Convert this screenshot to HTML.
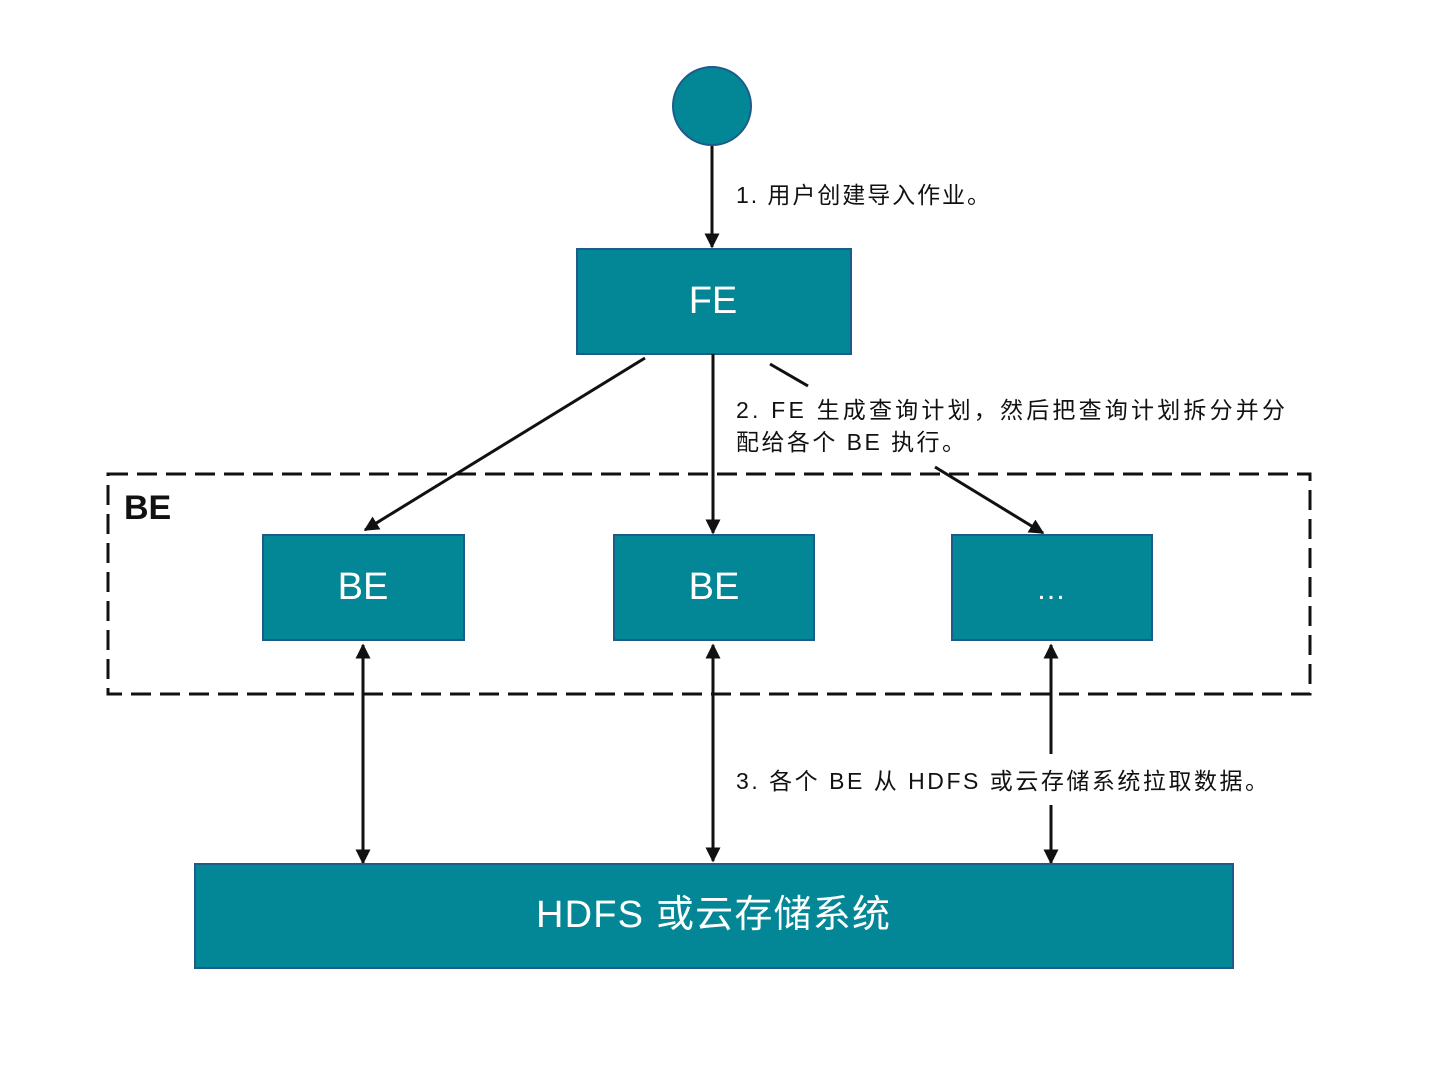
<!DOCTYPE html>
<html><head><meta charset="utf-8"><style>
html,body{margin:0;padding:0;background:#fff;}
svg{display:block;}
text{font-family:"Liberation Sans","Noto Sans CJK SC",sans-serif;}
</style></head><body>
<svg width="1436" height="1076" viewBox="0 0 1436 1076" xmlns="http://www.w3.org/2000/svg">
<defs>
<marker id="a" viewBox="0 0 10 10" refX="9" refY="5" markerWidth="5" markerHeight="5" orient="auto-start-reverse" markerUnits="strokeWidth">
<path d="M0,0 L10,5 L0,10 z" fill="#111"/>
</marker>
</defs>
<circle cx="712" cy="106" r="39" fill="#038695" stroke="#1d5c8a" stroke-width="2"/>
<line x1="712" y1="146" x2="712" y2="247" stroke="#111" stroke-width="3" marker-end="url(#a)"/>
<text x="736" y="203" font-size="23" fill="#111" textLength="254" lengthAdjust="spacing">1. 用户创建导入作业。</text>
<rect x="577" y="249" width="274" height="105" fill="#038695" stroke="#1d5c8a" stroke-width="2"/>
<text x="713" y="313" font-size="38" fill="#fff" text-anchor="middle">FE</text>
<rect x="108" y="474" width="1202" height="220" fill="none" stroke="#111" stroke-width="3" stroke-dasharray="20 9"/>
<text x="124" y="519" font-size="34" font-weight="bold" fill="#111">BE</text>
<line x1="645" y1="358" x2="365" y2="530" stroke="#111" stroke-width="3" marker-end="url(#a)"/>
<line x1="713" y1="354" x2="713" y2="533" stroke="#111" stroke-width="3" marker-end="url(#a)"/>
<line x1="770" y1="364" x2="808" y2="386" stroke="#111" stroke-width="3"/>
<line x1="935" y1="467" x2="1043" y2="533" stroke="#111" stroke-width="3" marker-end="url(#a)"/>
<text x="736" y="418" font-size="23" fill="#111" textLength="549" lengthAdjust="spacing">2. FE 生成查询计划，然后把查询计划拆分并分</text>
<text x="736" y="450" font-size="23" fill="#111" textLength="229" lengthAdjust="spacing">配给各个 BE 执行。</text>
<rect x="263" y="535" width="201" height="105" fill="#038695" stroke="#1d5c8a" stroke-width="2"/>
<rect x="614" y="535" width="200" height="105" fill="#038695" stroke="#1d5c8a" stroke-width="2"/>
<rect x="952" y="535" width="200" height="105" fill="#038695" stroke="#1d5c8a" stroke-width="2"/>
<text x="363" y="599" font-size="38" fill="#fff" text-anchor="middle">BE</text>
<text x="714" y="599" font-size="38" fill="#fff" text-anchor="middle">BE</text>
<text x="1051" y="599" font-size="30" fill="#fff" text-anchor="middle">…</text>
<line x1="363" y1="645" x2="363" y2="863" stroke="#111" stroke-width="3" marker-start="url(#a)" marker-end="url(#a)"/>
<line x1="713" y1="645" x2="713" y2="861" stroke="#111" stroke-width="3" marker-start="url(#a)" marker-end="url(#a)"/>
<line x1="1051" y1="645" x2="1051" y2="754" stroke="#111" stroke-width="3" marker-start="url(#a)"/>
<line x1="1051" y1="805" x2="1051" y2="863" stroke="#111" stroke-width="3" marker-end="url(#a)"/>
<text x="736" y="789" font-size="23" fill="#111" textLength="532" lengthAdjust="spacing">3. 各个 BE 从 HDFS 或云存储系统拉取数据。</text>
<rect x="195" y="864" width="1038" height="104" fill="#038695" stroke="#1d5c8a" stroke-width="2"/>
<text x="536" y="927" font-size="38" fill="#fff" textLength="354" lengthAdjust="spacing">HDFS 或云存储系统</text>
</svg>
</body></html>
